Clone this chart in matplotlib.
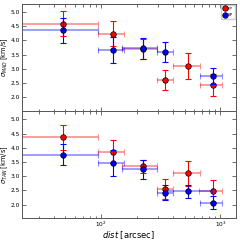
import numpy as np
import matplotlib
matplotlib.use("Agg")
from matplotlib import pyplot as plt

# top panel (sigma_MAD)
fp_mad_x = [48, 125, 222, 344, 537, 858]
fp_mad_xlo = [20, 94, 150, 295, 398, 676]
fp_mad_xhi = [94, 155, 295, 403, 676, 1025]
fp_mad_y = [4.59, 4.24, 3.70, 2.60, 3.09, 2.44]
fp_mad_yerr = [0.45, 0.43, 0.35, 0.35, 0.46, 0.38]

sp_mad_x = [48, 125, 222, 344, 858]
sp_mad_xlo = [20, 94, 150, 295, 676]
sp_mad_xhi = [94, 155, 295, 403, 1025]
sp_mad_y = [4.35, 3.66, 3.72, 3.59, 2.75]
sp_mad_yerr = [0.44, 0.45, 0.38, 0.35, 0.28]

# bottom panel (sigma_TAN)
fp_tan_x = [48, 125, 222, 344, 537, 858]
fp_tan_xlo = [20, 94, 150, 295, 398, 660]
fp_tan_xhi = [94, 155, 295, 403, 676, 1025]
fp_tan_y = [4.36, 3.86, 3.35, 2.54, 3.11, 2.47]
fp_tan_yerr = [0.43, 0.40, 0.22, 0.35, 0.44, 0.39]

sp_tan_x = [48, 125, 222, 344, 537, 858]
sp_tan_xlo = [20, 94, 150, 295, 355, 676]
sp_tan_xhi = [94, 155, 295, 403, 851, 1025]
sp_tan_y = [3.76, 3.47, 3.24, 2.42, 2.47, 2.07]
sp_tan_yerr = [0.38, 0.45, 0.32, 0.27, 0.22, 0.22]

plt.rcParams["font.family"] = "DejaVu Sans"
plt.rcParams["font.size"] = 5


def draw_series(ax, x, xlo, xhi, y, yerr, color, label):
    x = np.array(x, dtype=float)
    xerr = [x - np.array(xlo), np.array(xhi) - x]
    ax.errorbar(x, y, xerr=xerr, fmt="none", ecolor=color, alpha=0.45,
                elinewidth=1.2, capsize=2, capthick=0.8)
    ax.errorbar(x, y, yerr=yerr, fmt="none", ecolor=color,
                elinewidth=0.8, capsize=2, capthick=0.8)
    ax.plot(x, y, "o", color=color, markeredgecolor="black",
            markeredgewidth=0.5, markersize=4, label=label, linestyle="none")


fig, axes = plt.subplots(2, 1, figsize=(2.4, 2.4), dpi=100, sharex=True)
fig.subplots_adjust(left=0.09, right=0.985, top=0.985, bottom=0.09, hspace=0)

ax = axes[0]
draw_series(ax, fp_mad_x, fp_mad_xlo, fp_mad_xhi, fp_mad_y, fp_mad_yerr, "red", "FP")
draw_series(ax, sp_mad_x, sp_mad_xlo, sp_mad_xhi, sp_mad_y, sp_mad_yerr, "blue", "SP")
ax.set_ylabel(r"$\sigma_{MAD}$ [km/s]", fontsize=4.8)
ax.legend(loc="upper right", fontsize=3, handletextpad=0.3, borderpad=0.4,
          borderaxespad=0.4, labelspacing=0.6, markerscale=1.0,
          handlelength=1.0, framealpha=1, edgecolor="#cccccc")

ax = axes[1]
draw_series(ax, fp_tan_x, fp_tan_xlo, fp_tan_xhi, fp_tan_y, fp_tan_yerr, "red", "FP")
draw_series(ax, sp_tan_x, sp_tan_xlo, sp_tan_xhi, sp_tan_y, sp_tan_yerr, "blue", "SP")
ax.set_ylabel(r"$\sigma_{TAN}$ [km/s]", fontsize=4.8)
ax.set_xlabel(r"$dist$ [arcsec]", fontsize=6, labelpad=0)

for ax in axes:
    ax.set_xscale("log")
    ax.set_xlim(21.5, 1360)
    ax.set_ylim(1.52, 5.29)
    ax.set_yticks([2.0, 2.5, 3.0, 3.5, 4.0, 4.5, 5.0])
    ax.yaxis.set_label_coords(-0.052, 0.5)
    ax.tick_params(which="both", direction="in", top=True, right=True,
                   labelsize=4.2, pad=1.2, width=0.6, color="#555555")
    ax.tick_params(which="major", length=3)
    ax.tick_params(which="minor", length=1.8)
    for s in ax.spines.values():
        s.set_color("#555555")
        s.set_linewidth(0.7)

fig.savefig("out.png", dpi=100)
